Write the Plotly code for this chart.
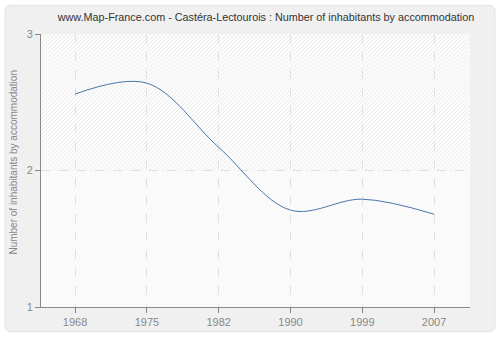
import plotly.graph_objects as go

years = ["1968", "1975", "1982", "1990", "1999", "2007"]
inhabitants_per_home = [2.56, 2.64, 2.17, 1.71, 1.79, 1.68]
y_ticks = [1, 2, 3]

W, H = 500, 340
L, R, T, B = 41, 30, 34, 30
pw, ph = W - L - R, H - T - B


def px_to_paper(px, py):
    return (px - L) / pw, (H - B - py) / ph


def rounded_rect(x0, y0, x1, y1, r):
    # rounded rectangle path in paper coordinates from pixel corners
    def p(x, y):
        a, b = px_to_paper(x, y)
        return f"{a:.5f},{b:.5f}"
    return (
        f"M {p(x0 + r, y0)} L {p(x1 - r, y0)} Q {p(x1, y0)} {p(x1, y0 + r)} "
        f"L {p(x1, y1 - r)} Q {p(x1, y1)} {p(x1 - r, y1)} "
        f"L {p(x0 + r, y1)} Q {p(x0, y1)} {p(x0, y1 - r)} "
        f"L {p(x0, y0 + r)} Q {p(x0, y0)} {p(x0 + r, y0)} Z"
    )


def hatch(x0, y0, x1, y1, step, color):
    # diagonal "/" hatching clipped to a pixel rectangle
    out = []
    c = x0 + y0 + step / 2
    while c < x1 + y1:
        sx = max(x0, c - y1)
        ex = min(x1, c - y0)
        if ex > sx:
            a0, b0 = px_to_paper(sx, c - sx)
            a1, b1 = px_to_paper(ex, c - ex)
            out.append(dict(type="line", xref="paper", yref="paper", layer="below",
                            x0=a0, y0=b0, x1=a1, y1=b1,
                            line=dict(color=color, width=1)))
        c += step
    return out


idx = list(range(len(years)))
plot_top, plot_mid, plot_bot = T, T + ph / 2, H - B

shapes = [
    dict(type="path", xref="paper", yref="paper", layer="below",
         path=rounded_rect(5, 5, 495, 335, 6),
         fillcolor="#f0f0f0", line=dict(color="#e2e2e2", width=1)),
    dict(type="rect", xref="paper", yref="paper", layer="below",
         x0=0, x1=1, y0=0.5, y1=1, fillcolor="#fdfdfd", line=dict(width=0)),
    dict(type="rect", xref="paper", yref="paper", layer="below",
         x0=0, x1=1, y0=0, y1=0.5, fillcolor="#fcfcfc", line=dict(width=0)),
]
shapes += hatch(L, plot_top, W - R, plot_mid, 4, "#eaeaea")
shapes += hatch(L, plot_mid, W - R, plot_bot, 4, "#f5f5f5")

fig = go.Figure()
fig.add_trace(go.Scatter(
    x=idx, y=inhabitants_per_home, mode="lines",
    line=dict(color="#4a76a8", width=1, shape="spline", smoothing=1.0),
    hoverinfo="skip", showlegend=False,
))

ax_title_x, _ = px_to_paper(14, 0)
_, ax_title_y = px_to_paper(0, 164)

fig.update_layout(
    width=W, height=H,
    margin=dict(l=L, r=R, t=T, b=B),
    paper_bgcolor="#ffffff",
    plot_bgcolor="#fafafa",
    font=dict(family="Liberation Sans", size=11, color="#888888"),
    title=dict(
        text="www.Map-France.com - Castéra-Lectourois : Number of inhabitants by accommodation",
        x=266 / W, xanchor="center", y=1 - 17 / H, yanchor="middle",
        font=dict(size=10.8, color="#333333"),
    ),
    xaxis=dict(
        tickmode="array", tickvals=idx, ticktext=years,
        range=[-0.475, 5.5],
        showline=True, linecolor="#888888", linewidth=1,
        ticks="outside", ticklen=5, tickcolor="#888888",
        showgrid=True, gridcolor="#e0e0e0", griddash="dash", gridwidth=1,
        zeroline=False, fixedrange=True,
    ),
    yaxis=dict(
        tickmode="array", tickvals=y_ticks, ticktext=[str(v) for v in y_ticks],
        range=[1, 3],
        showline=True, linecolor="#888888", linewidth=1,
        ticks="outside", ticklen=5, tickcolor="#888888",
        showgrid=True, gridcolor="#e0e0e0", griddash="dash", gridwidth=1,
        zeroline=False, fixedrange=True,
    ),
    annotations=[
        dict(text="Number of inhabitants by accommodation", textangle=-90,
             xref="paper", yref="paper", x=ax_title_x, y=ax_title_y,
             xanchor="center", yanchor="middle", showarrow=False,
             font=dict(size=10, color="#888888")),
    ],
    shapes=shapes,
)

fig.write_html("out.html")
